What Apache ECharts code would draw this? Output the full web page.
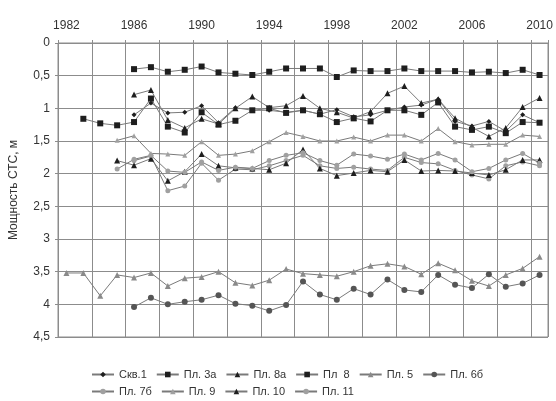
<!DOCTYPE html>
<html>
<head>
<meta charset="utf-8">
<script src="https://cdn.jsdelivr.net/npm/echarts@6/dist/echarts.min.js"></script>
<style>
    html, body { margin: 0; padding: 0; background: #fff; }
    #chart { width: 556px; height: 401px; }
</style>
</head>
<body>
<div id="chart"></div>
<script>
// годы наблюдений
var years = ['1982', '1983', '1984', '1985', '1986', '1987', '1988', '1989', '1990', '1991',
    '1992', '1993', '1994', '1995', '1996', '1997', '1998', '1999', '2000', '2001',
    '2002', '2003', '2004', '2005', '2006', '2007', '2008', '2009', '2010'];

// мощность СТС, м
var skv1 = [null, null, null, null, 1.10, 0.92, 1.07, 1.06, 0.96, 1.22,
    0.99, 1.03, 1.03, 1.06, 1.03, 1.09, 1.02, 1.13, 1.10, 1.03,
    0.98, 0.95, 0.86, 1.20, 1.27, 1.20, 1.35, 1.10, 1.22];
var pl3a = [null, 1.16, 1.23, 1.26, 1.21, 0.85, 1.28, 1.37, 1.06, 1.25,
    1.19, 1.03, 1.00, 1.07, 1.03, 1.09, 1.21, 1.15, 1.20, 1.03,
    1.03, 1.10, 0.91, 1.28, 1.33, 1.28, 1.38, 1.21, 1.22];
var pl8a = [null, null, null, null, 0.79, 0.72, 1.18, 1.30, 1.16, 1.24,
    1.00, 0.82, 0.99, 0.96, 0.81, 1.00, 1.06, 1.15, 1.05, 0.77,
    0.66, 0.92, 0.86, 1.15, 1.29, 1.43, 1.30, 0.98, 0.84];
var pl8 = [null, null, null, null, 0.40, 0.37, 0.44, 0.41, 0.36, 0.45,
    0.47, 0.49, 0.44, 0.39, 0.39, 0.39, 0.52, 0.42, 0.43, 0.43,
    0.39, 0.43, 0.43, 0.43, 0.45, 0.44, 0.46, 0.41, 0.49];
var pl5 = [3.52, 3.52, 3.87, 3.55, 3.59, 3.52, 3.72, 3.60, 3.58, 3.50,
    3.67, 3.71, 3.63, 3.46, 3.53, 3.55, 3.57, 3.50, 3.41, 3.38,
    3.42, 3.54, 3.37, 3.48, 3.64, 3.72, 3.55, 3.45, 3.27];
var pl6b = [null, null, null, null, 4.04, 3.90, 4.00, 3.96, 3.93, 3.86,
    3.99, 4.02, 4.10, 4.01, 3.65, 3.85, 3.93, 3.76, 3.85, 3.62,
    3.78, 3.81, 3.55, 3.70, 3.75, 3.54, 3.73, 3.68, 3.55];
var pl7b = [null, null, null, null, 1.80, 1.73, 2.26, 2.19, 1.84, 2.10,
    1.93, 1.94, 1.88, 1.80, 1.72, 1.88, 1.92, 1.90, 1.93, 1.95,
    1.75, 1.83, 1.85, 1.95, 2.02, 2.08, 1.88, 1.82, 1.88];
var pl9 = [null, null, null, 1.49, 1.42, 1.69, 1.70, 1.72, 1.51, 1.72,
    1.70, 1.65, 1.51, 1.37, 1.43, 1.50, 1.50, 1.44, 1.50, 1.41,
    1.41, 1.50, 1.31, 1.51, 1.56, 1.55, 1.55, 1.41, 1.43];
var pl10 = [null, null, null, 1.80, 1.87, 1.77, 2.11, 1.97, 1.70, 1.88,
    1.91, 1.92, 1.94, 1.84, 1.63, 1.92, 2.03, 1.99, 1.95, 1.97,
    1.79, 1.96, 1.95, 1.96, 1.99, 2.02, 1.94, 1.79, 1.79];
var pl11 = [null, null, null, 1.93, 1.78, 1.72, 1.96, 1.98, 1.82, 1.95,
    1.90, 1.92, 1.80, 1.72, 1.68, 1.80, 1.87, 1.70, 1.73, 1.78,
    1.70, 1.79, 1.69, 1.79, 1.97, 1.92, 1.79, 1.69, 1.84];

var legendRow1 = ['Скв.1', 'Пл. 3а', 'Пл. 8а', 'Пл  8', 'Пл. 5', 'Пл. 6б'];
var legendRow2 = ['Пл. 7б', 'Пл. 9', 'Пл. 10', 'Пл. 11'];

var fontFamily = '"Liberation Sans", Arial, sans-serif';
var black = '#1e1e1e';
var gray = '#a0a0a0';
var gridColor = '#8c8c8c';

function makeSeries(name, data, symbol, color, size) {
    return {
        name: name,
        type: 'line',
        data: data,
        symbol: symbol,
        symbolSize: size,
        showSymbol: true,
        connectNulls: false,
        itemStyle: { color: color },
        lineStyle: { color: '#7a7a7a', width: 1 },
        emphasis: { disabled: true },
        animation: false
    };
}

function legendBlock(names, top) {
    return {
        data: names,
        left: 86,
        top: top,
        itemWidth: 22,
        itemHeight: 7,
        itemGap: 9,
        textStyle: { fontSize: 11, color: '#333', fontFamily: fontFamily }
    };
}

var chart = echarts.init(document.getElementById('chart'));

var option = {
    backgroundColor: '#fff',
    textStyle: { fontFamily: fontFamily },
    grid: {
        left: 57, right: 8, top: 43, bottom: 64,
        show: true, borderColor: gridColor, borderWidth: 1
    },
    legend: [legendBlock(legendRow1, 364), legendBlock(legendRow2, 381)],
    xAxis: {
        type: 'category',
        data: years,
        position: 'top',
        boundaryGap: true,
        axisLine: { lineStyle: { color: gridColor } },
        axisTick: { show: true, interval: 1, length: 3, lineStyle: { color: gridColor } },
        axisLabel: { interval: 3, color: '#333', fontSize: 12, margin: 11 },
        splitLine: { show: true, interval: 1, lineStyle: { color: gridColor, width: 1 } }
    },
    yAxis: {
        type: 'value',
        inverse: true,
        min: 0,
        max: 4.5,
        interval: 0.5,
        name: 'Мощность СТС, м',
        nameLocation: 'middle',
        nameGap: 38,
        nameTextStyle: { fontSize: 12, color: '#333' },
        axisLine: { show: true, lineStyle: { color: gridColor } },
        axisTick: { show: true, length: 3, lineStyle: { color: gridColor } },
        axisLabel: {
            color: '#333', fontSize: 12, margin: 8,
            formatter: function (v) { return String(v).replace('.', ','); }
        },
        splitLine: { show: true, lineStyle: { color: gridColor, width: 1 } }
    },
    series: [
        makeSeries('Скв.1', skv1, 'diamond', black, 5),
        makeSeries('Пл. 3а', pl3a, 'rect', black, 6),
        makeSeries('Пл. 8а', pl8a, 'triangle', black, 6),
        makeSeries('Пл  8', pl8, 'rect', black, 6),
        makeSeries('Пл. 5', pl5, 'triangle', '#8a8a8a', 6),
        makeSeries('Пл. 6б', pl6b, 'circle', '#555', 6),
        makeSeries('Пл. 7б', pl7b, 'circle', gray, 5),
        makeSeries('Пл. 9', pl9, 'triangle', gray, 5),
        makeSeries('Пл. 10', pl10, 'triangle', black, 6),
        makeSeries('Пл. 11', pl11, 'circle', gray, 5)
    ]
};

chart.setOption(option);
</script>
</body>
</html>
